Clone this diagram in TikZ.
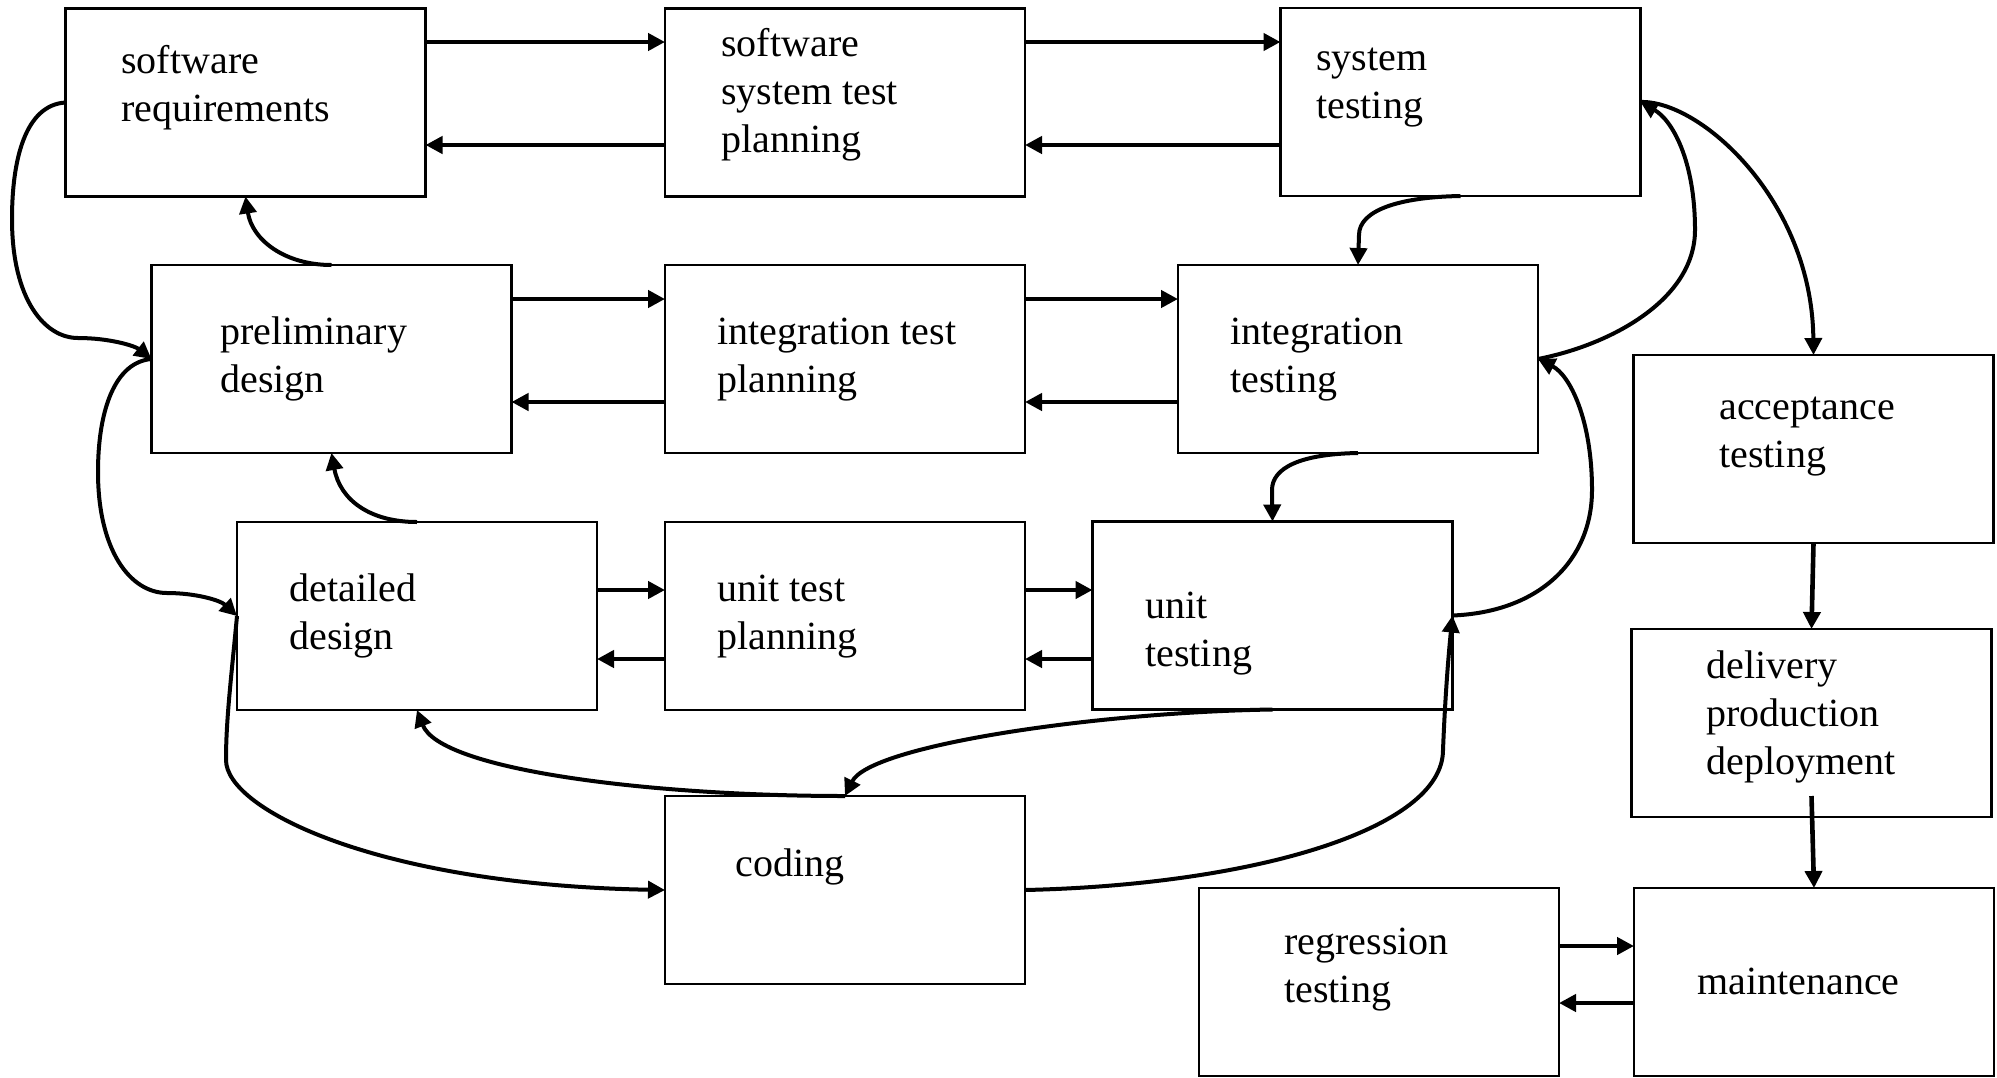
\documentclass[tikz,border=0pt]{standalone}
\usepackage{fontspec}
\setmainfont{Liberation Serif}
\usetikzlibrary{arrows.meta}
\begin{document}
\begin{tikzpicture}[x=0.5pt,y=-0.5pt,
  box/.style={draw, line width=1.1pt, minimum width=180pt, minimum height=94pt, inner sep=0pt, outer sep=0pt},
  lbl/.style={anchor=base west, inner sep=0pt, align=left, font=\fontsize{20}{24}\selectfont},
  flow/.style={line width=2.3pt, -{Triangle[length=8.5pt,width=8.5pt]}},
  loop/.style={line width=2pt, -{Triangle[length=8.5pt,width=8.5pt]}}]
\useasboundingbox (0,0) rectangle (1997,1077);

% boxes
\node[box] (sr) at (245.5,102.5) {};
\node[box] (sp) at (845,102.5) {};
\node[box] (st) at (1460.5,102) {};
\node[box] (pd) at (331.5,359) {};
\node[box] (ip) at (845,359) {};
\node[box] (it) at (1358,359) {};
\node[box] (dd) at (417,616) {};
\node[box] (up) at (845,616) {};
\node[box] (ut) at (1272.5,615.5) {};
\node[box] (cd) at (845,890) {};
\node[box] (at) at (1813.5,449) {};
\node[box] (dl) at (1811.5,723) {};
\node[box] (mt) at (1814,982) {};
\node[box] (rg) at (1379,982) {};

% labels (anchored at the baseline of their last line)
\node[lbl] (sr-l) at (121,121) {software\\requirements};
\node[lbl] (sp-l) at (721,152) {software\\system test\\planning};
\node[lbl] (st-l) at (1316,118) {system\\testing};
\node[lbl] (pd-l) at (220,392) {preliminary\\design};
\node[lbl] (ip-l) at (717,392) {integration test\\planning};
\node[lbl] (it-l) at (1230,392) {integration\\testing};
\node[lbl] (dd-l) at (289,649) {detailed\\design};
\node[lbl] (up-l) at (717,649) {unit test\\planning};
\node[lbl] (ut-l) at (1145,666) {unit\\testing};
\node[lbl] (cd-l) at (735,876) {coding};
\node[lbl] (at-l) at (1719,467) {acceptance\\testing};
\node[lbl] (dl-l) at (1706,774) {delivery\\production\\deployment};
\node[lbl] (rg-l) at (1284,1002) {regression\\testing};
\node[lbl] (mt-l) at (1697,994) {maintenance};

% paired horizontal arrows
\draw[flow] (sr.east |- 0,42) -- (sp.west |- 0,42);
\draw[flow] (sp.west |- 0,145) -- (sr.east |- 0,145);
\draw[flow] (sp.east |- 0,42) -- (st.west |- 0,42);
\draw[flow] (st.west |- 0,145) -- (sp.east |- 0,145);
\draw[flow] (pd.east |- 0,299) -- (ip.west |- 0,299);
\draw[flow] (ip.west |- 0,402) -- (pd.east |- 0,402);
\draw[flow] (ip.east |- 0,299) -- (it.west |- 0,299);
\draw[flow] (it.west |- 0,402) -- (ip.east |- 0,402);
\draw[flow] (dd.east |- 0,590) -- (up.west |- 0,590);
\draw[flow] (up.west |- 0,659) -- (dd.east |- 0,659);
\draw[flow] (up.east |- 0,590) -- (ut.west |- 0,590);
\draw[flow] (ut.west |- 0,659) -- (up.east |- 0,659);
\draw[flow] (rg.east |- 0,946) -- (mt.west |- 0,946);
\draw[flow] (mt.west |- 0,1003) -- (rg.east |- 0,1003);

% vertical arrows on the right
\draw[flow] (at.south) -- (dl.north);
\draw[flow] (dl.south |- 0,796) -- (mt.north);

% left side loops
\draw[loop] (sr.west) .. controls (25,105) and (12,160) .. (12,219)
  .. controls (12,300) and (45,338) .. (78,338)
  .. controls (110,338) and (135,346) .. (pd.west);
\draw[loop] (pd.west) .. controls (115,362) and (98,410) .. (98,472)
  .. controls (98,550) and (130,593) .. (167,593)
  .. controls (195,593) and (220,600) .. (dd.west);
\draw[loop] (dd.west) .. controls (231,680) and (226,720) .. (226,760)
  .. controls (226,810) and (380,885) .. (cd.west);

% design feedback
\draw[loop] (pd.north) .. controls (285,265) and (252,240) .. (sr.south);
\draw[loop] (dd.north) .. controls (370,522) and (340,500) .. (pd.south);
\draw[loop] (cd.north) .. controls (650,796) and (440,770) .. (dd.south);

% testing chain
\draw[loop] (ut.south) .. controls (1100,712) and (870,745) .. (cd.north);
\draw[loop] (it.south) .. controls (1300,454) and (1272,468) .. (1272,490) -- (ut.north);
\draw[loop] (st.south) .. controls (1400,197) and (1359,210) .. (1359,235) -- (it.north);

% right side loops
\draw[loop] (cd.east) .. controls (1250,885) and (1443,830) .. (1443,750)
  .. controls (1445,700) and (1448,660) .. (ut.east);
\draw[loop] (ut.east) .. controls (1540,612) and (1592,560) .. (1592,490)
  .. controls (1592,420) and (1570,375) .. (it.east);
\draw[loop] (it.east) .. controls (1610,345) and (1695,300) .. (1695,230)
  .. controls (1695,160) and (1672,120) .. (st.east);
\draw[loop] (st.east) .. controls (1700,100) and (1812,200) .. (at.north);
\end{tikzpicture}
\end{document}
